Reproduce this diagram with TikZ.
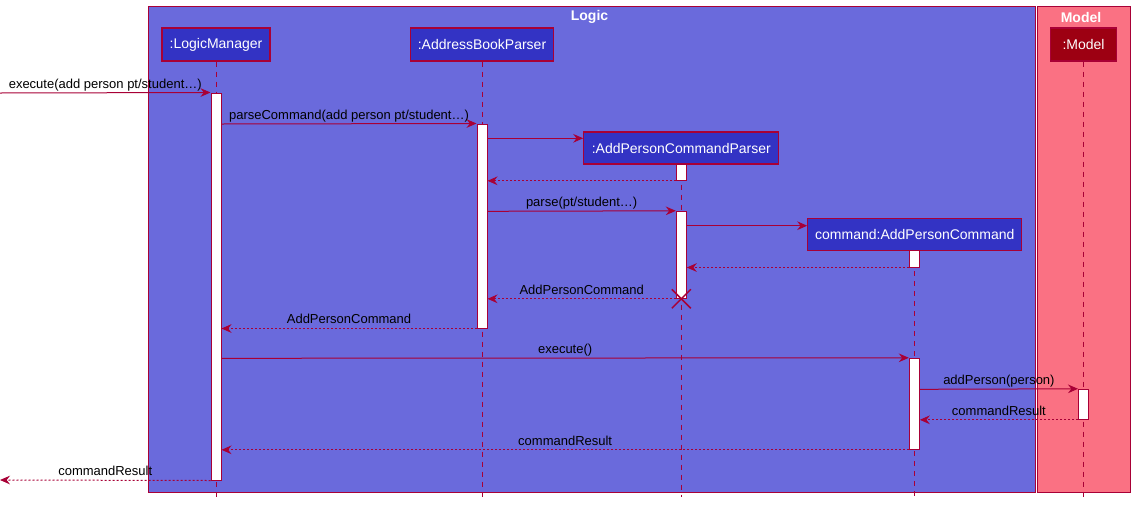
\documentclass[tikz,border=0pt]{standalone}
\usepackage{fontspec}
\setmainfont{Liberation Sans}
\usetikzlibrary{arrows.meta}
\definecolor{brd}{HTML}{A80036}
\definecolor{partblue}{HTML}{3333C4}
\definecolor{logicbg}{HTML}{6A6ADC}
\definecolor{modelbg}{HTML}{FA7183}
\definecolor{modelpart}{HTML}{9D0012}
\newcommand\myact[4]{\node[act, minimum height={(#4-#3)*0.75pt}] (#1) at (#2,{(#3+#4)/2}) {};}
\begin{document}
\begin{tikzpicture}[x=0.75pt,y=-0.75pt, font=\fontsize{9.75}{11.7}\selectfont,
 region/.style={draw=brd, line width=0.75pt},
 rtitle/.style={text=white, font=\fontsize{10.5}{12.6}\selectfont\bfseries, inner sep=0pt},
 part/.style={draw=brd, fill=partblue, text=white, line width=0.9pt, inner sep=0pt, minimum height=24.75pt, font=\fontsize{10.5}{12.6}\selectfont},
 act/.style={draw=brd, fill=white, line width=0.75pt, minimum width=7.5pt, inner sep=0pt},
 life/.style={draw=brd, dash pattern=on 3.75pt off 3.75pt, line width=0.75pt},
 msg/.style={draw=brd, line width=0.75pt, -{Stealth[length=7.5pt,width=6.5pt,inset=2.5pt]}},
 ret/.style={msg, dash pattern=on 1.5pt off 1.5pt},
 lbl/.style={midway, anchor=base, yshift=3.5pt, inner sep=0pt, text=black}]
\useasboundingbox (0,0) rectangle (1134,504);
% regions
\draw[region, fill=logicbg] (148,6) rectangle (1035,492);
\draw[region, fill=modelbg] (1037,6) rectangle (1130,492);
\node[rtitle] (tlogic) at (589.5,17) {Logic};
\node[rtitle] (tmodel) at (1081,17) {Model};
% participants
\node[part, minimum width=81pt] (lm) at (216,44.5) {:LogicManager};
\node[part, minimum width=107.25pt] (abp) at (482,44.5) {:AddressBookParser};
\node[part, minimum width=146.25pt, minimum height=24pt] (apcp) at (681.3,148) {:AddPersonCommandParser};
\node[part, minimum width=160.5pt, minimum height=24pt] (apc) at (914.8,234.6) {command:AddPersonCommand};
\node[part, fill=modelpart, minimum width=49.5pt] (md) at (1083.5,44.5) {:Model};
% lifelines
\coordinate (lmEnd) at (216,497);
\draw[life] (lm.south) -- (lm.south |- lmEnd);
\draw[life] (abp.south) -- (abp.south |- lmEnd);
\draw[life] (apcp.south) -- (apcp.south |- lmEnd);
\draw[life] (apc.south) -- (apc.south |- lmEnd);
\draw[life] (md.south) -- (md.south |- lmEnd);
% activations
\myact{lmA}{216}{93}{480}
\myact{abpA}{482}{124}{328}
\myact{apcpA1}{681.3}{164}{180.3}
\myact{apcpA2}{681.3}{211.3}{298.3}
\myact{apcA1}{914.3}{250.3}{267}
\myact{apcA2}{914.3}{358.3}{449.3}
\myact{mdA}{1083.5}{389.3}{419.3}
% messages
\coordinate (in1) at (0,93);
\coordinate (out1) at (0,480);
\draw[msg] (in1) -- (lmA.north west) node[lbl] (l1) {execute(add person pt/student…)};
\draw[msg] (lmA.east |- 0,124) -- (abpA.north west) node[lbl] (l2) {parseCommand(add person pt/student…)};
\draw[msg] (abpA.east |- 0,138.3) -- (apcp.west |- 0,138.3);
\draw[ret] (apcpA1.south west) -- (abpA.east |- apcpA1.south);
\draw[msg] (abpA.east |- 0,211.3) -- (apcpA2.north west) node[lbl] (l5) {parse(pt/student…)};
\draw[msg] (apcpA2.east |- 0,225.7) -- (apc.west |- 0,225.7);
\draw[ret] (apcA1.south west) -- (apcpA2.east |- apcA1.south);
\draw[ret] (apcpA2.south west) -- (abpA.east |- apcpA2.south) node[lbl] (l8) {AddPersonCommand};
\draw[brd, line width=1.1pt] ([shift={(-9.5,-9.5)}]apcpA2.south) -- ([shift={(9.5,9.5)}]apcpA2.south)
  ([shift={(-9.5,9.5)}]apcpA2.south) -- ([shift={(9.5,-9.5)}]apcpA2.south);
\draw[ret] (abpA.south west) -- (lmA.east |- abpA.south) node[lbl] (l9) {AddPersonCommand};
\draw[msg] (lmA.east |- 0,358.3) -- (apcA2.north west) node[lbl] (l10) {execute()};
\draw[msg] (apcA2.east |- 0,389.3) -- (mdA.north west) node[lbl] (l11) {addPerson(person)};
\draw[ret] (mdA.south west) -- (apcA2.east |- mdA.south) node[lbl] (l12) {commandResult};
\draw[ret] (apcA2.south west) -- (lmA.east |- apcA2.south) node[lbl] (l13) {commandResult};
\draw[ret] (lmA.south west) -- (out1) node[lbl] (l14) {commandResult};
\end{tikzpicture}
\end{document}
